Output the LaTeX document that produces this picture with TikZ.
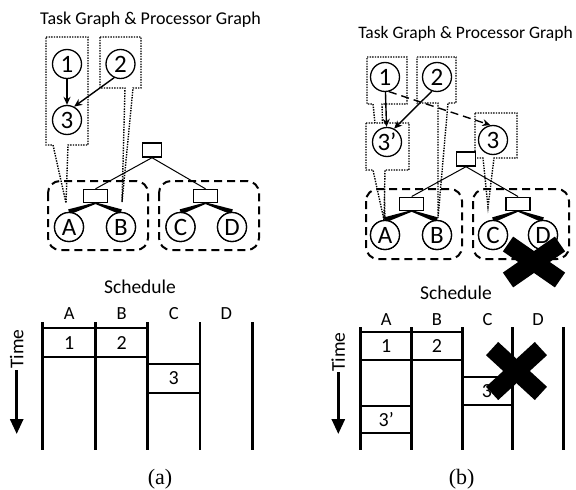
\documentclass[tikz,border=0pt]{standalone}
\usepackage{fontspec}
\setmainfont{Carlito}
\newfontfamily\capfont{Liberation Serif}
\usetikzlibrary{arrows.meta,calc}

\tikzset{
  task/.style={circle,draw,line width=1.3pt,minimum size=29pt,inner sep=0pt,fill=white,
    font=\fontsize{25}{26}\selectfont},
  switchbox/.style={rectangle,draw,line width=1.4pt,minimum width=24pt,minimum height=13pt,
    inner sep=0pt,fill=white},
  rootbox/.style={switchbox,minimum width=19pt,minimum height=14pt},
  callout/.style={draw,line width=1.4pt,dash pattern=on 1.4pt off 1.2pt,line join=miter},
  cluster/.style={draw,line width=2pt,dash pattern=on 8pt off 5pt,rounded corners=12pt},
  link/.style={line width=1pt},
  dep/.style={line width=1.4pt,-{Stealth[length=8pt,width=7pt]}},
  ghostdep/.style={dep,dash pattern=on 8pt off 5pt},
  lane/.style={line width=2.5pt},
  slot/.style={line width=1.8pt},
  heading/.style={font=\fontsize{18}{20}\selectfont},
  colname/.style={font=\fontsize{18.5}{20}\selectfont},
  slotlabel/.style={font=\fontsize{20}{22}\selectfont},
  timelabel/.style={font=\fontsize{19.5}{20}\selectfont,rotate=90},
  timearrow/.style={line width=2.8pt,-{Triangle[width=13pt,length=15pt]}},
  caption/.style={font=\capfont\fontsize{22}{24}\selectfont},
  failmark/.style={line width=18pt,line cap=butt},
}

% tapered bus line from a switch (#1) down to a processor (#2)
\newcommand\busline[2]{%
  \fill ($(#1)!0.8pt!90:(#2)$) -- ($(#2)!2.6pt!-90:(#1)$) --
        ($(#2)!2.6pt!90:(#1)$) -- ($(#1)!0.8pt!-90:(#2)$) -- cycle;}

\begin{document}
\begin{tikzpicture}[x=1pt,y=-1pt]
\useasboundingbox (0,0) rectangle (576,490);

%% ---------------- (a) ----------------
\node[heading] (tga) at (150.5,20) {Task Graph \& Processor Graph};

% mapping callouts
\coordinate (tipa1) at (66,203);
\coordinate (tipa2) at (122,202);
\draw[callout] (46,37) -- (88,37) -- (88,145) -- (68,145) -- (tipa1) -- (53,145) -- (46,145) -- cycle;
\draw[callout] (100,37) -- (141,37) -- (141,88) -- (133,88) -- (tipa2) -- (125,88) -- (100,88) -- cycle;

% processor graph
\draw[cluster] (48,181) rectangle (148,250);
\draw[cluster] (159,181) rectangle (259,250);
\node[rootbox] (ra) at (152,150) {};
\node[switchbox] (sa1) at (95.5,196) {};
\node[switchbox] (sa2) at (205.5,196) {};
\node[task] (pa) at (69,227) {A};
\node[task] (pb) at (121,227) {B};
\node[task] (pc) at (180.5,227) {C};
\node[task] (pd) at (232,227) {D};
\draw[link] (ra.south) -- (sa1.north);
\draw[link] (ra.south) -- (sa2.north);
\busline{sa1.south}{pa.north}
\busline{sa1.south}{pb.north}
\busline{sa2.south}{pc.north}
\busline{sa2.south}{pd.north}
\node[task] at (pa) {A};
\node[task] at (pb) {B};
\node[task] at (pc) {C};
\node[task] at (pd) {D};

% task graph
\node[task] (ta1) at (67,64) {1};
\node[task] (ta2) at (120.5,64) {2};
\node[task] (ta3) at (67,120) {3};
\draw[dep] (ta1) -- (ta3);
\draw[dep] (ta2.245) -- (ta3.62);

% schedule
\node[heading,font=\fontsize{19.5}{20}\selectfont] (sca) at (140,287) {Schedule};
\foreach \x in {42.7,95.7,147.7,200,252.3} \draw[lane] (\x,322) -- (\x,450);
\node[colname] (ca) at (69.2,314) {A};
\node[colname] (cb) at (121.7,314) {B};
\node[colname] (cc) at (173.8,314) {C};
\node[colname] (cd) at (226.2,314) {D};
\draw[slot] (42.7,328.3) -- (147.7,328.3);
\draw[slot] (42.7,357.3) -- (147.7,357.3);
\draw[slot] (147.7,364) -- (200,364);
\draw[slot] (147.7,392.7) -- (200,392.7);
\node[slotlabel] (ja1) at (69.2,343) {1};
\node[slotlabel] (ja2) at (121.7,343) {2};
\node[slotlabel] (ja3) at (173.8,378.5) {3};
\node[timelabel] (tma) at (16.7,349) {Time};
\coordinate (taa) at (16.7,370);
\coordinate (tab) at (16.7,434);
\draw[timearrow] (taa) -- (tab);
\node[caption] (capa) at (160,479) {(a)};

%% ---------------- (b) ----------------
\node[heading,font=\fontsize{17.5}{20}\selectfont] (tgb) at (465.5,34) {Task Graph \& Processor Graph};

% mapping callouts
\coordinate (tipb1) at (385,220);
\coordinate (tipb2) at (438,218);
\coordinate (tipb3) at (488,207);
\coordinate (tipb4) at (384,220);
\draw[callout] (367,57) -- (407,57) -- (407,104) -- (382,104) -- (tipb1) -- (373,104) -- (367,104) -- cycle;
\draw[callout] (417,57) -- (456,57) -- (456,103) -- (448,103) -- (tipb2) -- (438,103) -- (417,103) -- cycle;
\draw[callout] (475,113) -- (517,113) -- (517,158) -- (494,158) -- (tipb3) -- (483,158) -- (475,158) -- cycle;
\draw[callout,fill=white] (366,123) -- (409,123) -- (409,170) -- (385,170) -- (tipb4) -- (373,170) -- (366,170) -- cycle;

% processor graph
\draw[cluster] (366,189) rectangle (462,259);
\draw[cluster] (473,189) rectangle (569,259);
\node[rootbox] (rb) at (466,159) {};
\node[switchbox] (sb1) at (411.7,203.7) {};
\node[switchbox] (sb2) at (518,203.7) {};
\node[task] (qa) at (385,235) {A};
\node[task] (qb) at (437,235) {B};
\node[task] (qc) at (493,235) {C};
\node[task] (qd) at (543,235) {D};
\draw[link] (rb.south) -- (sb1.north);
\draw[link] (rb.south) -- (sb2.north);
\busline{sb1.south}{qa.north}
\busline{sb1.south}{qb.north}
\busline{sb2.south}{qc.north}
\busline{sb2.south}{qd.north}
\node[task] at (qa) {A};
\node[task] at (qb) {B};
\node[task] at (qc) {C};
\node[task] at (qd) {D};

% task graph with the duplicated task
\node[task] (tb1) at (385,77) {1};
\node[task] (tb2) at (437,77) {2};
\node[task] (tb3d) at (387,142) {3’};
\node[task] (tb3) at (493,140) {3};
\draw[dep] (tb1) -- (tb3d);
\draw[dep] (tb2.250) -- (tb3d.62);
\draw[ghostdep] (tb1.285) -- (tb3.100);

% failed processor
\coordinate (xfa) at (534,262);
\draw[failmark] ($(xfa)+(-26,-18)$) -- ($(xfa)+(26,18)$);
\draw[failmark] ($(xfa)+(-26,18)$) -- ($(xfa)+(26,-18)$);

% schedule
\node[heading,font=\fontsize{19.5}{20}\selectfont] (scb) at (456,293) {Schedule};
\foreach \x in {360.7,411.7,462.3,512.7,563.3} \draw[lane] (\x,327.3) -- (\x,450);
\node[colname] (da) at (386.2,319.3) {A};
\node[colname] (db) at (437,319.3) {B};
\node[colname] (dc) at (487.5,319.3) {C};
\node[colname] (dd) at (538,319.3) {D};
\draw[slot] (360.7,332.3) -- (462.3,332.3);
\draw[slot] (360.7,360) -- (462.3,360);
\draw[slot] (462.3,377.3) -- (512.7,377.3);
\draw[slot] (462.3,405) -- (512.7,405);
\draw[slot] (360.7,405.7) -- (411.7,405.7);
\draw[slot] (360.7,433.3) -- (411.7,433.3);
\node[slotlabel] (jb1) at (386.2,346.5) {1};
\node[slotlabel] (jb2) at (437,346.5) {2};
\node[slotlabel] (jb3) at (487,391.5) {3};
\node[slotlabel] (jb3d) at (386.2,419.7) {3’};
\node[timelabel] (tmb) at (338.3,352) {Time};
\coordinate (tba) at (338.3,372);
\coordinate (tbb) at (338.3,434);
\draw[timearrow] (tba) -- (tbb);
\coordinate (xfb) at (516.5,371);
\draw[failmark] ($(xfb)+(-24.4,-22.4)$) -- ($(xfb)+(24.4,22.4)$);
\draw[failmark] ($(xfb)+(-24.4,22.4)$) -- ($(xfb)+(24.4,-22.4)$);
\node[caption] (capb) at (461.7,479) {(b)};
\end{tikzpicture}
\end{document}
